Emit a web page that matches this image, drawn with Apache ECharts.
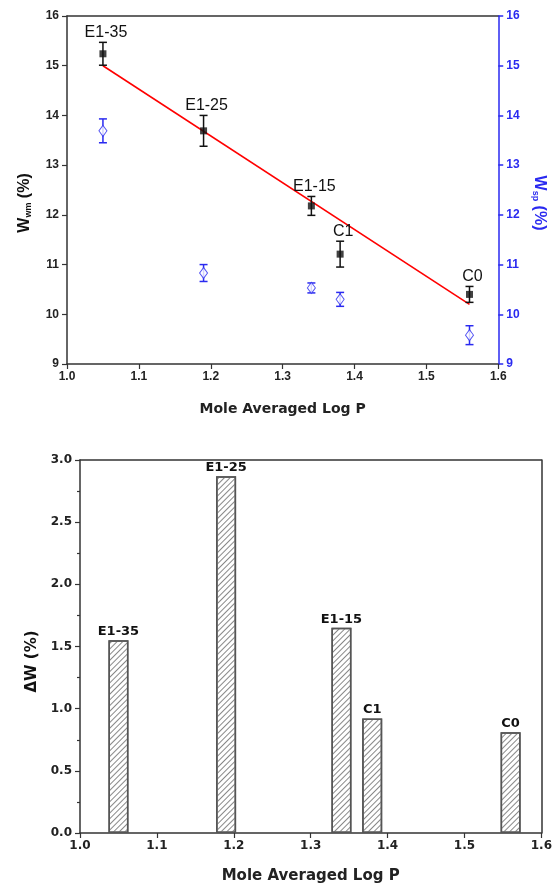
<!DOCTYPE html>
<html>
<head>
<meta charset="utf-8">
<script src="https://cdn.jsdelivr.net/npm/echarts@6/dist/echarts.min.js"></script>
<style>
html,body{margin:0;padding:0;background:#fff;}
#c{width:555px;height:890px;}
</style>
</head>
<body>
<div id="c"></div>
<script>
// ---- data ----
const logP = [1.05, 1.19, 1.34, 1.38, 1.56];
const sampleNames = ['E1-35', 'E1-25', 'E1-15', 'C1', 'C0'];
const wwm = [15.24, 13.69, 12.18, 11.21, 10.40];
const wwmErr = [0.23, 0.31, 0.19, 0.26, 0.16];
const wsp = [13.69, 10.83, 10.53, 10.30, 9.58];
const wspErr = [0.24, 0.17, 0.10, 0.14, 0.19];
const fitX = [1.05, 1.56];
const fitY = [15.0, 10.2];
const deltaW = [1.55, 2.87, 1.65, 0.92, 0.81];

const BLUE = '#2a2af0';
const AX = '#333';
const SANS = 'Liberation Sans, Arial, sans-serif';
const WIDE = 'DejaVu Sans, sans-serif';

function errItem(color, labels) {
  return function (params, api) {
    const x = api.value(0), y = api.value(1), e = api.value(2);
    const t = api.coord([x, y + e]);
    const b = api.coord([x, y - e]);
    const cap = 4;
    const st = { stroke: color, lineWidth: 1.5 };
    const ch = [
      { type: 'line', shape: { x1: t[0], y1: t[1], x2: b[0], y2: b[1] }, style: st },
      { type: 'line', shape: { x1: t[0] - cap, y1: t[1], x2: t[0] + cap, y2: t[1] }, style: st },
      { type: 'line', shape: { x1: b[0] - cap, y1: b[1], x2: b[0] + cap, y2: b[1] }, style: st }
    ];
    if (labels) {
      ch.push({
        type: 'text',
        style: {
          text: labels[params.dataIndex], x: t[0] + 3, y: t[1] - 2,
          textAlign: 'center', textVerticalAlign: 'bottom',
          font: '16px ' + SANS, fill: '#111'
        }
      });
    }
    return { type: 'group', children: ch };
  };
}

const xTicks = {
  type: 'value', min: 1.0, max: 1.6, interval: 0.1,
  axisLine: { show: true, onZero: false, lineStyle: { color: AX, width: 1.5 } },
  axisTick: { show: true, inside: false, length: 5, lineStyle: { color: AX, width: 1.2 } },
  axisLabel: { color: '#222', fontWeight: 'bold', fontSize: 12, fontFamily: SANS, margin: 7,
    formatter: v => v.toFixed(1) },
  splitLine: { show: false }
};

const chart = echarts.init(document.getElementById('c'), null, { renderer: 'canvas' });
chart.setOption({
  animation: false,
  backgroundColor: '#fff',
  grid: [
    { left: 67, right: 56, top: 16, height: 348 },
    { left: 80, right: 11, top: 460, bottom: 57 }
  ],
  xAxis: [
    Object.assign({}, xTicks, {
      gridIndex: 0, position: 'bottom',
      name: 'Mole Averaged Log P', nameLocation: 'middle', nameGap: 38,
      nameTextStyle: { fontFamily: WIDE, fontWeight: 'bold', fontSize: 14, color: '#222' }
    }),
    { type: 'value', gridIndex: 0, position: 'top', min: 1.0, max: 1.6,
      axisLine: { show: true, onZero: false, lineStyle: { color: AX, width: 1.5 } },
      axisTick: { show: false }, axisLabel: { show: false }, splitLine: { show: false } },
    Object.assign({}, xTicks, {
      gridIndex: 1, position: 'bottom',
      axisLabel: Object.assign({}, xTicks.axisLabel, { fontFamily: WIDE, fontSize: 12 }),
      name: 'Mole Averaged Log P', nameLocation: 'middle', nameGap: 36,
      nameTextStyle: { fontFamily: WIDE, fontWeight: 'bold', fontSize: 15, color: '#222' }
    }),
    { type: 'value', gridIndex: 1, position: 'top', min: 1.0, max: 1.6,
      axisLine: { show: true, onZero: false, lineStyle: { color: AX, width: 1.5 } },
      axisTick: { show: false }, axisLabel: { show: false }, splitLine: { show: false } }
  ],
  yAxis: [
    { type: 'value', gridIndex: 0, position: 'left', min: 9, max: 16, interval: 1,
      axisLine: { show: true, onZero: false, lineStyle: { color: AX, width: 1.5 } },
      axisTick: { show: true, length: 5, lineStyle: { color: AX, width: 1.2 } },
      axisLabel: { color: '#222', fontWeight: 'bold', fontSize: 12, fontFamily: SANS, margin: 8 },
      splitLine: { show: false },
      name: '{a|W}{b|wm}{a| (%)}', nameLocation: 'middle', nameRotate: 90, nameGap: 34,
      nameTextStyle: { padding: [0, 26, 0, 0],
        rich: { a: { fontFamily: SANS, fontWeight: 'bold', fontSize: 16, color: '#111' },
                b: { fontFamily: SANS, fontWeight: 'bold', fontSize: 9, color: '#111', verticalAlign: 'bottom', padding: [8, 0, 0, 0] } } }
    },
    { type: 'value', gridIndex: 0, position: 'right', min: 9, max: 16, interval: 1,
      axisLine: { show: true, onZero: false, lineStyle: { color: BLUE, width: 1.5 } },
      axisTick: { show: true, length: 5, lineStyle: { color: BLUE, width: 1.5 } },
      axisLabel: { color: BLUE, fontWeight: 'bold', fontSize: 12, fontFamily: SANS, margin: 8 },
      splitLine: { show: false },
      name: '{a|W}{b|sp}{a| (%)}', nameLocation: 'middle', nameRotate: -90, nameGap: 32,
      nameTextStyle: { padding: [0, 0, 0, 26],
        rich: { a: { fontFamily: SANS, fontWeight: 'bold', fontSize: 16, color: BLUE },
                b: { fontFamily: SANS, fontWeight: 'bold', fontSize: 9, color: BLUE, verticalAlign: 'bottom', padding: [8, 0, 0, 0] } } }
    },
    { type: 'value', gridIndex: 1, position: 'left', min: 0, max: 3, interval: 0.5,
      axisLine: { show: true, onZero: false, lineStyle: { color: AX, width: 1.5 } },
      axisTick: { show: true, length: 5, lineStyle: { color: AX, width: 1.2 } },
      minorTick: { show: true, splitNumber: 2, length: 3, lineStyle: { color: AX, width: 1.2 } },
      axisLabel: { color: '#222', fontWeight: 'bold', fontSize: 12, fontFamily: WIDE, margin: 8,
        formatter: v => v.toFixed(1) },
      splitLine: { show: false },
      name: 'ΔW (%)', nameLocation: 'middle', nameRotate: 90, nameGap: 40,
      nameTextStyle: { fontFamily: WIDE, fontWeight: 'bold', fontSize: 15, color: '#111', padding: [0, 30, 0, 0] }
    },
    { type: 'value', gridIndex: 1, position: 'right', min: 0, max: 3,
      axisLine: { show: true, onZero: false, lineStyle: { color: AX, width: 1.5 } },
      axisTick: { show: false }, axisLabel: { show: false }, splitLine: { show: false } }
  ],
  series: [
    { type: 'line', xAxisIndex: 0, yAxisIndex: 0, data: fitX.map((x, i) => [x, fitY[i]]),
      symbol: 'none', lineStyle: { color: '#f00', width: 1.6 }, z: 2 },
    { type: 'custom', xAxisIndex: 0, yAxisIndex: 1, renderItem: errItem(BLUE, null),
      data: logP.map((x, i) => [x, wsp[i], wspErr[i]]), z: 3 },
    { type: 'scatter', xAxisIndex: 0, yAxisIndex: 1, data: logP.map((x, i) => [x, wsp[i]]),
      symbol: 'diamond', symbolSize: [8, 11],
      itemStyle: { color: '#fff', borderColor: BLUE, borderWidth: 1 }, z: 4 },
    { type: 'custom', xAxisIndex: 0, yAxisIndex: 0, renderItem: errItem('#111', sampleNames),
      data: logP.map((x, i) => [x, wwm[i], wwmErr[i]]), z: 5 },
    { type: 'scatter', xAxisIndex: 0, yAxisIndex: 0, data: logP.map((x, i) => [x, wwm[i]]),
      symbol: 'rect', symbolSize: 7, itemStyle: { color: '#111' }, z: 6 },
    { type: 'bar', xAxisIndex: 2, yAxisIndex: 2, barWidth: 20,
      data: logP.map((x, i) => [x, deltaW[i]]),
      itemStyle: { color: '#fff', borderColor: '#555', borderWidth: 1.5,
        decal: { symbol: 'rect', symbolSize: 1, color: '#888', dashArrayX: [1, 0], dashArrayY: [1, 3], rotation: -Math.PI / 4 } },
      label: { show: true, position: 'top', distance: 2, formatter: p => sampleNames[p.dataIndex],
        fontFamily: WIDE, fontWeight: 'bold', fontSize: 13, color: '#111' } }
  ]
});
</script>
</body>
</html>
